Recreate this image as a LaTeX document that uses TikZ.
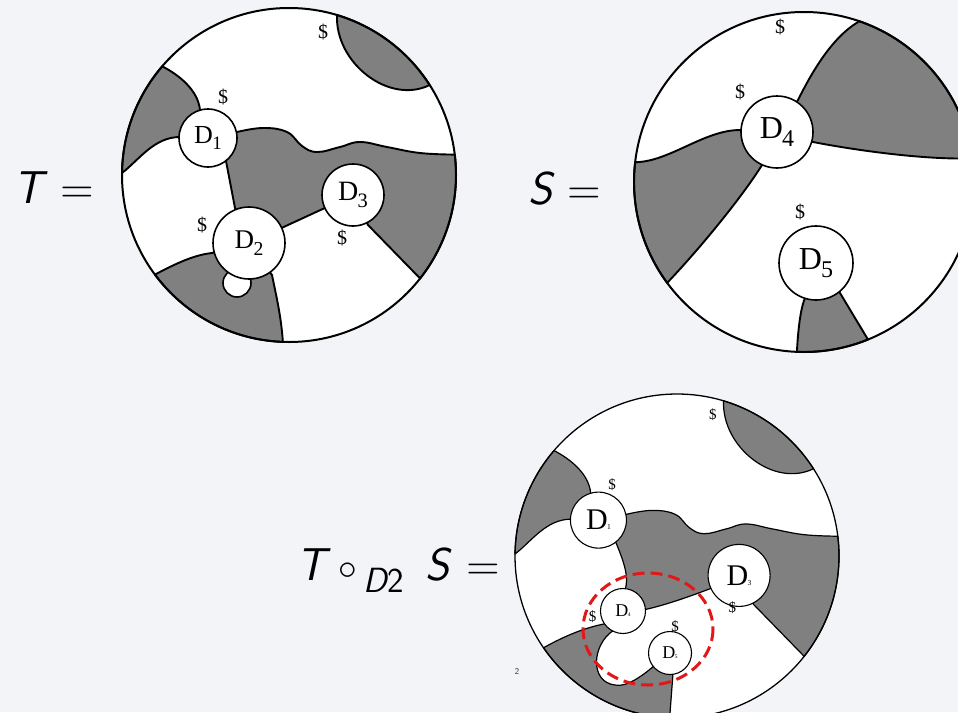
\documentclass[tikz,border=0pt]{standalone}
\usepackage{fontspec}
\usepackage{graphicx}
\usetikzlibrary{calc}
\newfontfamily\dfont{Liberation Serif}
\definecolor{pagebg}{RGB}{243,244,248}
\definecolor{regfill}{RGB}{128,128,128}
\definecolor{hilite}{RGB}{226,24,24}
\newcommand{\dname}[3]{D\kern-0.02em\raisebox{#3}{\scalebox{#2}{#1}}}
\tikzset{
  rim/.style  ={draw=black, line width=2pt},
  rims/.style ={draw=black, line width=1.3pt},
  reg/.style  ={fill=regfill, draw=black, line width=1.9pt, line join=round},
  regs/.style ={fill=regfill, draw=black, line width=1.2pt, line join=round},
  disc/.style ={circle, draw=black, fill=white, line width=1.6pt, inner sep=0pt},
  discs/.style={circle, draw=black, fill=white, line width=1.1pt, inner sep=0pt},
  dol/.style  ={font=\dfont\fontsize{20}{20}\selectfont, inner sep=0pt},
  dols/.style ={font=\dfont\fontsize{15}{15}\selectfont, inner sep=0pt},
  eqn/.style  ={font=\sffamily\fontsize{46}{46}\selectfont, inner sep=0pt},
  hl/.style   ={draw=hilite, line width=3pt, dash pattern=on 12pt off 6pt},
}

\begin{document}
\begin{tikzpicture}[x=1pt, y=-1pt]
  \path[use as bounding box, fill=pagebg] (0,0) rectangle (958,712);
  \clip (0,0) rectangle (958,712);

  % labels of the equations
  \node[eqn, anchor=base west] (eqT) at (13,203) {\itshape T\hspace{18pt}\upshape=};
  \node[eqn, anchor=base west] (eqS) at (528,204) {\itshape S\hspace{15.5pt}\upshape=};
  \node[eqn, anchor=base west] (eqTS) at (296,580) {\itshape T\hspace{13pt}\upshape\raisebox{1pt}{\scalebox{1.5}{$\circ$}}\hspace{6pt}\raisebox{-12pt}{\fontsize{35}{35}\selectfont\itshape D\upshape 2}\hspace{22pt}\itshape S\hspace{17pt}\upshape=};

  % T
  \begin{scope}[shift={(289,175)}]
    \coordinate (t1) at (-81,-37);
    \coordinate (t2) at (-40,68);
    \coordinate (t3) at (64,20);
    \fill[white] (0,0) circle[radius=167];
    \path[reg] (-73.3:167) arc[start angle=-73.3, end angle=-32.6, radius=167]
      .. controls (100,-70) and (46,-112) .. cycle;
    \path[reg] (180.7:167) arc[start angle=180.7, end angle=220.6, radius=167]
      .. controls (-110,-100) and (-91,-85) .. (-89,-65) -- (t1) -- (-109,-38)
      .. controls (-135,-38) and (-150,-15) .. cycle;
    \path[reg] (t1) -- plot[smooth, tension=0.7] coordinates {(-52,-43) (-26,-47) (-2,-43) (13,-29) (28,-23) (51,-28) (71,-33) (98,-28) (131,-22) (165.8,-20.4)}
      arc[start angle=-7, end angle=38.3, radius=167] -- (79,50) -- (t3) -- (t2) -- (-54,33) -- (-63,-14) -- cycle;
    \path[reg] (92.1:167) arc[start angle=92.1, end angle=143.4, radius=167]
      .. controls (-112,88) and (-95,80) .. (-77,78) -- (t2) -- (-17,100)
      .. controls (-13,120) and (-8,140) .. cycle;
    \draw[rim] (0,0) circle[radius=167];
    \draw[line width=1.6pt, fill=white] (-52,108) circle[radius=14];
    \node[disc, minimum size=58pt, font=\dfont\fontsize{26}{26}\selectfont] (tD1) at (t1) {\dname{1}{0.73}{-0.25em}};
    \node[disc, minimum size=72pt, font=\dfont\fontsize{27}{27}\selectfont] (tD2) at (t2) {\dname{2}{0.73}{-0.25em}};
    \node[disc, minimum size=62pt, font=\dfont\fontsize{28}{28}\selectfont] (tD3) at (t3) {\dname{3}{0.73}{-0.25em}};
    \node[dol] (td0) at (34,-143) {\$};
    \node[dol] (td1) at (-66,-78) {\$};
    \node[dol] (td2) at (-87,50) {\$};
    \node[dol] (td3) at (53,63) {\$};
  \end{scope}

  % S
  \begin{scope}[shift={(804,182)}]
    \coordinate (s4) at (-27,-50);
    \coordinate (s5) at (12,81);
    \fill[white] (0,0) circle[radius=170];
    \path[reg] (-71:170) arc[start angle=-71, end angle=-8, radius=170]
      .. controls (120,-22) and (50,-32) .. (9,-40) -- (s4) -- (-6,-82)
      .. controls (8,-110) and (28,-145) .. cycle;
    \path[reg] (143.6:170) arc[start angle=143.6, end angle=186.7, radius=170]
      .. controls (-135,-20) and (-100,-52) .. (-64,-52) -- (s4) -- (-42,-17)
      .. controls (-60,12) and (-100,62) .. cycle;
    \path[reg] (67.9:170) arc[start angle=67.9, end angle=92.4, radius=170]
      .. controls (-6,150) and (-4,128) .. (1,116) -- (s5) -- (36,111) -- cycle;
    \draw[rim] (0,0) circle[radius=170];
    \node[disc, minimum size=72pt, font=\dfont\fontsize{32}{32}\selectfont] (sD4) at (s4) {\dname{4}{0.75}{-0.25em}};
    \node[disc, minimum size=74pt, font=\dfont\fontsize{32}{32}\selectfont] (sD5) at (s5) {\dname{5}{0.75}{-0.25em}};
    \node[dol] (sd0) at (-24,-155) {\$};
    \node[dol] (sd4) at (-64,-90) {\$};
    \node[dol] (sd5) at (-4,30) {\$};
  \end{scope}

  % T o_D2 S
  \begin{scope}[shift={(677,556)}, scale=0.97]
    \coordinate (c1) at (-81,-37);
    \coordinate (c3) at (64,20);
    \coordinate (c4) at (-55.7,56.7);
    \coordinate (c5) at (-7.2,100);
    \fill[white] (0,0) circle[radius=167];
    \path[regs] (-73.3:167) arc[start angle=-73.3, end angle=-32.6, radius=167]
      .. controls (100,-70) and (46,-112) .. cycle;
    \path[regs] (180.7:167) arc[start angle=180.7, end angle=220.6, radius=167]
      .. controls (-110,-100) and (-91,-85) .. (-89,-65) -- (c1) -- (-109,-38)
      .. controls (-135,-38) and (-150,-15) .. cycle;
    \path[regs] (c1) -- plot[smooth, tension=0.7] coordinates {(-52,-43) (-26,-47) (-2,-43) (13,-29) (28,-23) (51,-28) (71,-33) (98,-28) (131,-22) (165.8,-20.4)}
      arc[start angle=-7, end angle=38.3, radius=167] -- (79,50) -- (c3) -- (36,33)
      .. controls (15,41) and (-10,50) .. (-32,55) -- (c4) -- (-53.6,35)
      .. controls (-49,22) and (-55,5) .. (-63.9,-16) -- cycle;
    \path[regs] (92.6:167) arc[start angle=92.6, end angle=145.5, radius=167]
      .. controls (-115,82) and (-95,74) .. (-75,70) -- (c4) -- (-66,77)
      .. controls (-88,92) and (-90,130) .. (-64,133)
      .. controls (-52,136) and (-34,122) .. (-24.5,114) -- (c5) -- (-4.1,120.6) -- cycle;
    \draw[rims] (0,0) circle[radius=167];
    \node[discs, minimum size=56pt, font=\dfont\fontsize{30}{30}\selectfont] (cD1) at (c1) {\dname{1}{0.25}{0pt}};
    \node[discs, minimum size=62pt, font=\dfont\fontsize{30}{30}\selectfont] (cD3) at (c3) {\dname{3}{0.25}{0pt}};
    \node[discs, minimum size=45pt, font=\dfont\fontsize{18}{18}\selectfont] (cD4) at (c4) {\dname{4}{0.3}{0pt}};
    \node[discs, minimum size=43pt, font=\dfont\fontsize{18}{18}\selectfont] (cD5) at (c5) {\dname{5}{0.3}{0pt}};
    \node[dols] (cd0) at (37,-146) {\$};
    \node[dols] (cd1) at (-67,-74) {\$};
    \node[dols] (cd3) at (57,53) {\$};
    \node[dols] (cd4) at (-87,63) {\$};
    \node[dols] (cd5) at (-2,73) {\$};
  \end{scope}
  \coordinate (redc) at (648,629);
  \draw[hl] (redc) ellipse[x radius=65, y radius=56];

  \node[font=\sffamily\fontsize{9}{9}\selectfont, text=black!75] (pnum) at (517,671) {2};
\end{tikzpicture}
\end{document}
